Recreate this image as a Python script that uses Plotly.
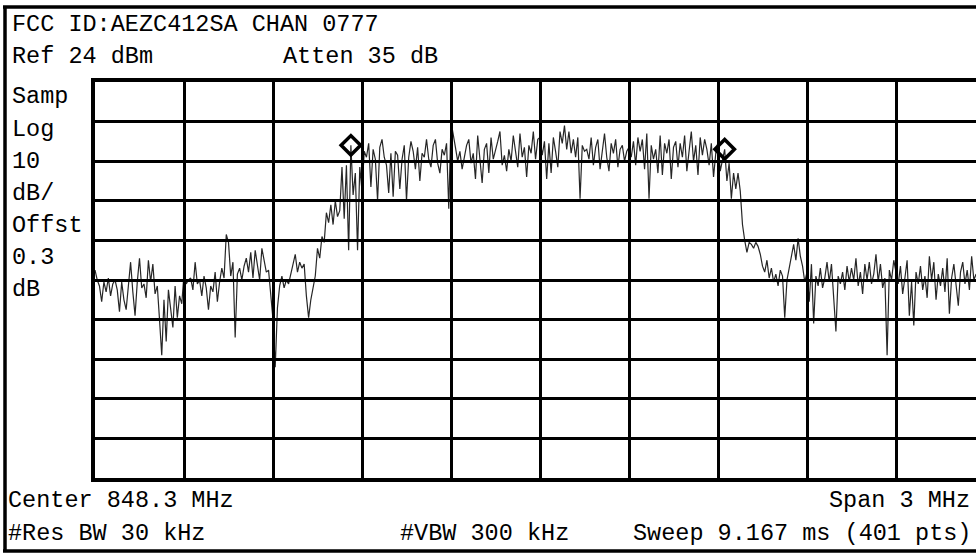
import numpy as np
import plotly.graph_objects as go

# ---------------- data ----------------
CENTER_MHZ = 848.3
SPAN_MHZ = 3.0
N_PTS = 401
REF_DBM = 24.0
DB_PER_DIV = 10.0

# trace amplitude (dBm), 401 sweep points
trace_dbm = [
    # div 0
    -23.5, -26.0, -27.5, -31.5, -26.5, -29.0, -25.5, -30.0, -27.0, -26.0,
    -28.5, -34.0, -26.5, -31.0, -33.5, -27.0, -21.5, -29.0, -35.0, -26.5,
    -20.5, -28.0, -27.0, -30.5, -21.0, -26.5, -22.0, -29.5, -27.5, -36.0,
    -45.0, -31.0, -41.5, -28.5, -33.0, -38.0, -27.5, -35.5, -30.0, -32.0,
    # div 1
    -24.5, -27.0, -26.0, -25.5, -28.5, -21.5, -27.0, -26.0, -30.0, -25.0,
    -28.0, -33.5, -27.5, -29.0, -24.0, -31.5, -26.5, -23.0, -25.5, -14.5,
    -16.5, -25.0, -21.5, -40.5, -24.5, -23.0, -26.0, -22.5, -20.5, -24.0,
    -19.0, -25.5, -18.5, -22.0, -26.0, -18.0, -21.5, -24.0, -23.5, -30.5,
    # div 2
    -36.0, -48.0, -33.0, -27.5, -25.0, -28.0, -26.0, -27.0, -24.5, -22.0,
    -19.5, -24.0, -21.5, -23.0, -22.0, -30.0, -35.5, -31.0, -28.0, -25.0,
    -18.0, -20.5, -15.0, -16.5, -9.0, -11.5, -7.0, -12.0, -6.0, -10.0,
    -8.5, 2.5, -10.5, 3.0, -18.5, 8.0, -4.5, 1.0, -18.5, 2.5,
    # div 3
    -3.5, 6.5, 5.0, 8.5, -2.5, 7.0, 4.5, -6.0, 7.5, 9.5,
    5.0, 3.0, -4.0, 6.0, -5.0, 6.5, 5.5, -3.0, 4.5, 8.0,
    -6.0, 5.0, 9.0, 6.5, 2.0, 7.5, -1.0, 6.0, 5.0, 9.5,
    4.5, 2.5, 8.0, 9.5, 3.5, 1.0, 7.0, 5.5, 8.5, -8.0,
    # div 4
    14.0, 11.0, 7.5, 4.0, 6.5, 2.0, 5.5, 8.0, 9.5, 3.5,
    6.0, -0.5, 10.5, 5.0, -1.5, 7.0, 8.5, 1.0, 10.0, 4.5,
    6.5, 9.0, 11.5, 3.0, 5.5, 1.5, 7.0, 4.0, 10.5, 6.0,
    2.5, 11.0, 5.0, 7.5, 0.0, 8.0, 6.0, 11.5, 4.5, 9.5,
    # div 5
    10.0, 5.5, 9.0, -0.5, 8.5, 1.0, 10.0, 6.5, 2.5, 11.5,
    8.5, 13.0, 7.0, 11.5, 6.0, 9.5, 5.0, 10.0, -5.5, 8.0,
    6.5, 7.0, 4.5, 10.0, 3.0, 7.5, 9.5, 2.0, 6.5, 11.0,
    5.0, 1.5, 8.5, 6.0, 9.5, 2.5, 7.0, 8.0, 4.0, 6.5,
    # div 6
    7.5, 5.0, 9.0, 3.0, 10.0, 6.5, 9.5, 2.0, 11.0, -5.5,
    8.0, 4.5, 7.0, 1.0, 10.5, 0.5, 8.5, 6.0, 9.5, -0.5,
    7.5, 9.0, 2.5, 8.5, 5.0, 10.5, 1.5, 6.5, 11.5, 4.0,
    8.0, 0.5, 10.0, 5.5, 9.5, 7.0, 3.0, 8.5, 0.0, 6.0,
    # div 7
    9.0, 1.5, 4.0, 7.0, -1.0, 3.5, -5.5, 1.0, -3.0, 1.0,
    -3.5, -12.0, -16.0, -19.0, -16.5, -17.0, -18.0, -16.5, -17.5, -19.5,
    -22.5, -24.0, -21.0, -25.5, -23.0, -26.5, -24.5, -27.5, -23.5, -25.0,
    -35.5, -26.0, -23.0, -19.5, -17.0, -21.0, -15.5, -20.0, -22.5, -26.5,
    # div 8
    -24.0, -31.5, -22.0, -37.0, -25.0, -27.5, -23.0, -28.0, -25.5, -21.5,
    -26.5, -22.0, -30.0, -39.0, -25.0, -27.0, -24.0, -28.5, -22.5, -26.5,
    -23.0, -26.0, -20.5, -27.5, -24.0, -29.5, -22.0, -26.0, -21.5, -27.0,
    -24.5, -19.5, -26.5, -22.0, -28.0, -25.5, -45.0, -23.5, -26.0, -21.0,
    # div 9
    -24.0, -27.0, -22.5, -29.5, -25.5, -21.0, -35.0, -26.5, -37.5, -24.0,
    -27.0, -22.5, -28.5, -25.0, -30.5, -20.0, -26.0, -21.5, -31.0, -24.5,
    -27.5, -23.0, -29.0, -20.5, -34.5, -25.5, -22.0, -26.5, -32.5, -24.0,
    -21.5, -27.0, -23.5, -28.5, -20.0, -26.0, -24.5, -27.0, -22.0, -25.5,
    -26.0,
]

# band-edge markers (sweep point indices)
marker_idx = [115, 283]

# on-screen annotation texts
title_line = "FCC ID:AEZC412SA CHAN 0777"
ref_text = "Ref 24 dBm"
atten_text = "Atten 35 dB"
left_labels = ["Samp", "Log", "10", "dB/", "Offst", "0.3", "dB"]
center_text = "Center 848.3 MHz"
span_text = "Span 3 MHz"
rbw_text = "#Res BW 30 kHz"
vbw_text = "#VBW 300 kHz"
sweep_text = "Sweep 9.167 ms (401 pts)"

# ---------------- figure ----------------
W, H = 976, 554
L, T, B = 95, 82, 76
PLOT_W = W - L
PLOT_H = H - T - B
DIV_PX = 89.0

f_start = CENTER_MHZ - SPAN_MHZ / 2
freqs = f_start + SPAN_MHZ * np.arange(N_PTS) / (N_PTS - 1)
f_visible_end = f_start + (SPAN_MHZ / 10) * (PLOT_W / DIV_PX)

y_bottom = REF_DBM - 10 * DB_PER_DIV

fig = go.Figure()
fig.add_trace(go.Scatter(
    x=freqs, y=trace_dbm, mode="lines",
    line=dict(color="rgba(0,0,0,0.85)", width=1.2),
    hoverinfo="skip", showlegend=False,
))
fig.add_trace(go.Scatter(
    x=[freqs[i] for i in marker_idx],
    y=[trace_dbm[i] for i in marker_idx],
    mode="markers",
    marker=dict(symbol="diamond-open", size=15, color="black",
                line=dict(color="black", width=3.5)),
    hoverinfo="skip", showlegend=False,
))

font = dict(family="Liberation Mono", size=23.5, color="black")


def px(xp):
    return (xp - L) / PLOT_W


def py(yp):
    return (H - B - yp) / PLOT_H


annotations = []


def add_text(text, xp, yp, anchor="left"):
    annotations.append(dict(
        text=text, x=px(xp), y=py(yp), xref="paper", yref="paper",
        xanchor=anchor, yanchor="middle", showarrow=False, font=font,
    ))


add_text(title_line, 10, 25)
add_text(ref_text, 10, 57)
add_text(atten_text, 281, 57)
for k, lab in enumerate(left_labels):
    add_text(lab, 10, 97 + 32 * k)
add_text(center_text, 6, 500)
add_text(span_text, 972, 500, "right")
add_text(rbw_text, 6, 533)
add_text(vbw_text, 398, 533)
add_text(sweep_text, 973, 533, "right")

# outer screen frame
shapes = [
    dict(type="line", xref="paper", yref="paper", x0=px(5), x1=px(5),
         y0=py(7), y1=py(551), line=dict(color="black", width=3.5)),
    dict(type="line", xref="paper", yref="paper", x0=px(3), x1=px(980),
         y0=py(7), y1=py(7), line=dict(color="black", width=3.5)),
    dict(type="line", xref="paper", yref="paper", x0=px(3), x1=px(980),
         y0=py(551), y1=py(551), line=dict(color="black", width=3.5)),
]

fig.update_layout(
    width=W, height=H,
    margin=dict(l=L, r=0, t=T, b=B, pad=0),
    paper_bgcolor="white", plot_bgcolor="white",
    annotations=annotations, shapes=shapes,
    showlegend=False,
)
fig.update_xaxes(
    range=[f_start, f_visible_end], tick0=f_start, dtick=SPAN_MHZ / 10,
    showgrid=True, gridcolor="black", gridwidth=2.5,
    showline=True, linecolor="black", linewidth=4, mirror=True,
    showticklabels=False, ticks="", zeroline=False, fixedrange=True,
)
fig.update_yaxes(
    range=[y_bottom, REF_DBM], tick0=y_bottom, dtick=DB_PER_DIV,
    showgrid=True, gridcolor="black", gridwidth=2.5,
    showline=True, linecolor="black", linewidth=4, mirror=False,
    showticklabels=False, ticks="", zeroline=False, fixedrange=True,
)

fig.write_html(
    "out.html",
    config={"displayModeBar": False},
    post_script=(
        "document.body.style.margin='0';"
        "document.body.style.padding='0';"
        "document.documentElement.style.overflow='hidden';"
    ),
)
